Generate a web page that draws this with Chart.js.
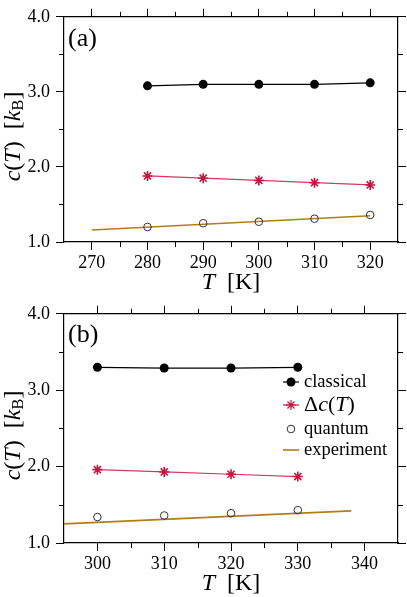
<!DOCTYPE html>
<html>
<head>
<meta charset="utf-8">
<script src="https://cdn.jsdelivr.net/npm/chart.js@4"></script>
<style>
body { margin: 0; background: #fff; width: 407px; height: 597px; overflow: hidden; }
.panel { position: absolute; left: 0; width: 407px; }
#pa { top: 0; height: 297px; }
#pb { top: 297px; height: 300px; }
</style>
</head>
<body>
<div class="panel" id="pa"><canvas id="chartA"></canvas></div>
<div class="panel" id="pb"><canvas id="chartB"></canvas></div>
<script>
// panel (a)
const tempA = [280, 290, 300, 310, 320];
const classicalA = [3.08, 3.10, 3.10, 3.10, 3.12];
const deltaA = [1.88, 1.85, 1.82, 1.79, 1.76];
const quantumA = [1.20, 1.25, 1.27, 1.31, 1.36];
const expTempA = [270, 320];
const experimentA = [1.16, 1.35];
const xTicksA = [270, 280, 290, 300, 310, 320];
const xMinorA = [275, 285, 295, 305, 315];

// panel (b)
const tempB = [300, 310, 320, 330];
const classicalB = [3.30, 3.29, 3.29, 3.30];
const deltaB = [1.96, 1.93, 1.90, 1.87];
const quantumB = [1.34, 1.36, 1.39, 1.43];
const expTempB = [295, 338];
const experimentB = [1.25, 1.42];
const xTicksB = [300, 310, 320, 330, 340];
const xMinorB = [305, 315, 325, 335];

const yTicks = [1.0, 2.0, 3.0, 4.0];
const yMinor = [1.5, 2.5, 3.5];
const seriesNames = ['classical', 'Δc(T)', 'quantum', 'experiment'];

const SERIF = "'Liberation Serif', 'DejaVu Serif', serif";
const RED = '#c0173f';
const GOLD = '#b07e14';

function pts(xs, ys) {
    return xs.map((x, i) => ({ x: x, y: ys[i] }));
}

// draw text pieces, [text, italic, sizeScale, yShift]
function richText(ctx, parts, x, y, size) {
    let cx = x;
    parts.forEach(p => {
        let s = size * (p[2] || 1);
        ctx.font = (p[1] ? 'italic ' : '') + s + 'px ' + SERIF;
        ctx.fillText(p[0], cx, y + (p[3] || 0));
        cx += ctx.measureText(p[0]).width;
    });
    return cx - x;
}
function richWidth(ctx, parts, size) {
    let w = 0;
    parts.forEach(p => {
        ctx.font = (p[1] ? 'italic ' : '') + size * (p[2] || 1) + 'px ' + SERIF;
        w += ctx.measureText(p[0]).width;
    });
    return w;
}

const decorPlugin = {
    id: 'decor',
    afterDraw(chart) {
        const ctx = chart.ctx;
        const o = chart.options.plugins.decor;
        const area = chart.chartArea;
        const sx = chart.scales.x, sy = chart.scales.y;
        ctx.save();
        ctx.strokeStyle = '#000';
        ctx.lineWidth = 1;
        // minor ticks on all four sides
        ctx.beginPath();
        o.xMinor.forEach(v => {
            let px = Math.round(sx.getPixelForValue(v)) + 0.5;
            ctx.moveTo(px, area.bottom); ctx.lineTo(px, area.bottom + 5);
            ctx.moveTo(px, area.top); ctx.lineTo(px, area.top - 5);
        });
        yMinor.forEach(v => {
            let py = Math.round(sy.getPixelForValue(v)) + 0.5;
            ctx.moveTo(area.left, py); ctx.lineTo(area.left - 5, py);
            ctx.moveTo(area.right, py); ctx.lineTo(area.right + 5, py);
        });
        ctx.stroke();

        ctx.fillStyle = '#000';
        ctx.textBaseline = 'middle';
        ctx.textAlign = 'left';
        // panel label
        ctx.font = '26px ' + SERIF;
        ctx.fillText(o.panel, area.left + 4, area.top + o.panelDy);

        // x title: T [K]
        const xt = [['T', true], ['  [K]', false]];
        let w = richWidth(ctx, xt, 24);
        richText(ctx, xt, (area.left + area.right) / 2 - w / 2, area.bottom + 41, 24);

        // y title: c(T) [kB]
        const yt = [['c', true], ['(', false], ['T', true], [')  [', false], ['k', true], ['B', false, 0.7, 5], [']', false]];
        ctx.save();
        ctx.translate(14, (area.top + area.bottom) / 2 + 7);
        ctx.rotate(-Math.PI / 2);
        w = richWidth(ctx, yt, 24);
        richText(ctx, yt, -w / 2, 0, 24);
        ctx.restore();

        // legend
        if (o.legend) {
            const lx = 291, tx = 304;
            const rows = [85, 108, 132, 153];
            const labels = [
                [[seriesNames[0], false]],
                [['Δ', false], ['c', true], ['(', false], ['T', true], [')', false]],
                [[seriesNames[2], false]],
                [[seriesNames[3], false]]
            ];
            // classical
            ctx.strokeStyle = '#000'; ctx.lineWidth = 1.2;
            ctx.beginPath(); ctx.moveTo(283, rows[0]); ctx.lineTo(299, rows[0]); ctx.stroke();
            ctx.beginPath(); ctx.arc(lx, rows[0], 4.5, 0, Math.PI * 2); ctx.fillStyle = '#000'; ctx.fill();
            // delta c
            ctx.strokeStyle = RED;
            ctx.beginPath(); ctx.moveTo(283, rows[1]); ctx.lineTo(299, rows[1]); ctx.stroke();
            Chart.helpers.drawPoint(ctx, { pointStyle: 'star', radius: 5, borderWidth: 1.5, rotation: 0 }, lx, rows[1]);
            // quantum
            ctx.strokeStyle = '#333'; ctx.lineWidth = 1;
            ctx.beginPath(); ctx.arc(lx, rows[2], 3.8, 0, Math.PI * 2); ctx.stroke();
            // experiment
            ctx.strokeStyle = GOLD; ctx.lineWidth = 1.6;
            ctx.beginPath(); ctx.moveTo(283, rows[3]); ctx.lineTo(299, rows[3]); ctx.stroke();

            ctx.fillStyle = '#000';
            labels.forEach((l, i) => richText(ctx, l, tx, rows[i], i === 1 ? 22 : 18.5));
        }
        ctx.restore();
    }
};

function makeChart(id, d) {
    const tickFont = { family: SERIF, size: 18 };
    const xBase = {
        type: 'linear', min: d.xMin, max: d.xMax,
        afterBuildTicks: s => { s.ticks = d.xTicks.map(v => ({ value: v })); },
        grid: { drawOnChartArea: false, tickLength: 8, color: '#000', tickWidth: 1 },
        border: { color: '#000', width: 1.2 }
    };
    const yBase = {
        type: 'linear', min: 1, max: 4,
        afterBuildTicks: s => { s.ticks = yTicks.map(v => ({ value: v })); },
        grid: { drawOnChartArea: false, tickLength: 8, color: '#000', tickWidth: 1 },
        border: { color: '#000', width: 1.2 }
    };
    return new Chart(document.getElementById(id), {
        type: 'line',
        data: {
            datasets: [
                {
                    label: seriesNames[0], data: pts(d.temp, d.classical),
                    borderColor: '#000', borderWidth: 1.2, backgroundColor: '#000',
                    pointStyle: 'circle', pointRadius: 4.5, pointBorderWidth: 0
                },
                {
                    label: seriesNames[1], data: pts(d.temp, d.delta),
                    borderColor: '#d23a62', borderWidth: 1.2, pointBorderColor: RED,
                    pointStyle: 'star', pointRadius: 5, pointBorderWidth: 1.6
                },
                {
                    label: seriesNames[2], data: pts(d.temp, d.quantum), showLine: false,
                    borderColor: '#333', backgroundColor: 'rgba(0,0,0,0)',
                    pointStyle: 'circle', pointRadius: 3.8, pointBorderWidth: 1
                },
                {
                    label: seriesNames[3], data: pts(d.expTemp, d.experiment),
                    borderColor: GOLD, borderWidth: 1.6, pointRadius: 0
                }
            ]
        },
        options: {
            responsive: true,
            maintainAspectRatio: false,
            animation: false,
            layout: { padding: 0 },
            elements: { line: { tension: 0 } },
            scales: {
                x: Object.assign({}, xBase, {
                    position: 'bottom',
                    ticks: { font: tickFont, color: '#000', padding: 2, maxRotation: 0, autoSkip: false },
                    afterFit: s => { s.height = d.bottomH; }
                }),
                x2: Object.assign({}, xBase, {
                    position: 'top',
                    ticks: { callback: () => '', padding: 0 },
                    afterFit: s => { s.height = d.topH; }
                }),
                y: Object.assign({}, yBase, {
                    position: 'left',
                    ticks: { font: tickFont, color: '#000', padding: 6, callback: v => v.toFixed(1) },
                    afterFit: s => { s.width = 64; }
                }),
                y2: Object.assign({}, yBase, {
                    position: 'right',
                    ticks: { callback: () => '', padding: 0 },
                    afterFit: s => { s.width = 9; }
                })
            },
            plugins: {
                legend: { display: false },
                tooltip: { enabled: false },
                decor: { panel: d.panel, panelDy: d.panelDy, xMinor: d.xMinor, legend: d.legend }
            }
        },
        plugins: [decorPlugin]
    });
}

makeChart('chartA', {
    temp: tempA, classical: classicalA, delta: deltaA, quantum: quantumA,
    expTemp: expTempA, experiment: experimentA,
    xMin: 265, xMax: 325, xTicks: xTicksA, xMinor: xMinorA,
    topH: 7, bottomH: 55, panel: '(a)', panelDy: 22, legend: false
});
makeChart('chartB', {
    temp: tempB, classical: classicalB, delta: deltaB, quantum: quantumB,
    expTemp: expTempB, experiment: experimentB,
    xMin: 295, xMax: 345, xTicks: xTicksB, xMinor: xMinorB,
    topH: 12, bottomH: 54, panel: '(b)', panelDy: 21, legend: true
});
</script>
</body>
</html>
